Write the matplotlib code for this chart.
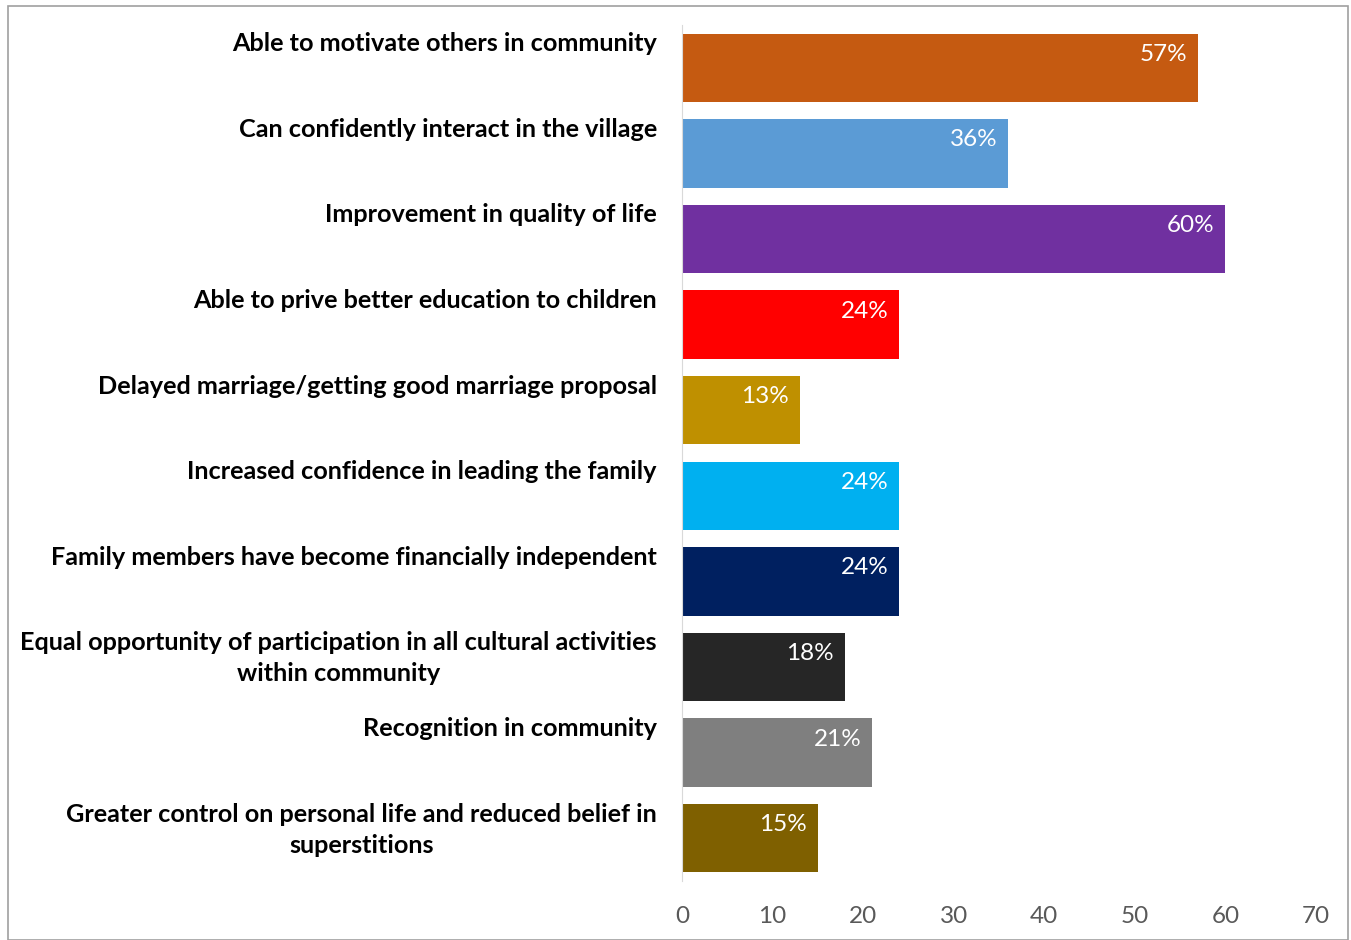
import matplotlib.pyplot as plt
from matplotlib.patches import Rectangle

categories = [
    "Able to motivate others in community",
    "Can confidently interact in the village",
    "Improvement in quality of life",
    "Able to prive better education to children",
    "Delayed marriage/getting good marriage proposal",
    "Increased confidence in leading the family",
    "Family members have become financially independent",
    "Equal opportunity of participation in all cultural activities\nwithin community",
    "Recognition in community",
    "Greater control on personal life and reduced belief in\nsuperstitions",
]
values = [57, 36, 60, 24, 13, 24, 24, 18, 21, 15]
colors = ["#C55A11", "#5B9BD5", "#7030A0", "#FF0000", "#BF9000",
          "#00B0F0", "#002060", "#262626", "#7F7F7F", "#7F6000"]
xticks = [0, 10, 20, 30, 40, 50, 60, 70]

plt.rcParams["font.family"] = ["Lato", "DejaVu Sans"]

fig = plt.figure(figsize=(13.51, 9.40), dpi=100)
ax = fig.add_axes([0.5048, 0.0628, 0.4692, 0.9106])

bar_h = 0.8
ypos = list(range(len(values)))
ax.barh(ypos, values, height=bar_h, color=colors)
ax.set_ylim(len(values) - 0.5, -0.5)
ax.set_xlim(0, 70)

for y, v, lab in zip(ypos, values, categories):
    top = y - bar_h / 2
    ax.text(v - 1.2, top + 0.12, f"{v}%", color="white", fontsize=17.5,
            ha="right", va="top")
    ax.annotate(lab, xy=(0, top), xycoords="data", xytext=(-18, 1),
                textcoords="offset points", ha="right", va="top",
                multialignment="center", fontsize=18.2, fontweight="bold",
                color="black", linespacing=1.42)

ax.set_yticks([])
ax.set_xticks(xticks)
ax.tick_params(axis="x", length=0, labelsize=17.5, labelcolor="#595959", pad=18)
for s in ["top", "right", "bottom"]:
    ax.spines[s].set_visible(False)
ax.spines["left"].set_color("#D9D9D9")

fig.patches.append(Rectangle((0.006, 0.0), 0.992, 0.994, transform=fig.transFigure,
                             fill=False, edgecolor="#A0A0A0", linewidth=1.2))

fig.savefig("out.png", dpi=100)
